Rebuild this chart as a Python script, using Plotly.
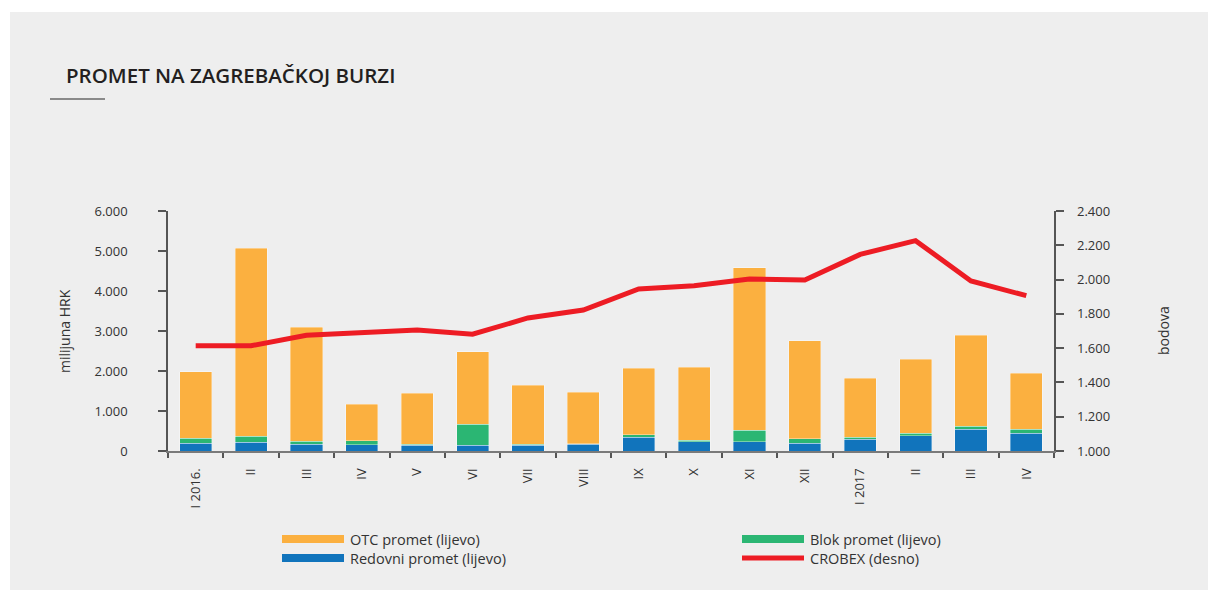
import plotly.graph_objects as go

# ---------------- data ----------------
months = ["I 2016.", "II", "III", "IV", "V", "VI", "VII", "VIII", "IX", "X",
          "XI", "XII", "I 2017", "II", "III", "IV"]
total_turnover = [1985, 5070, 3090, 1165, 1445, 2480, 1645, 1470, 2070, 2100,
                  4585, 2755, 1825, 2300, 2895, 1945]
redovni = [200, 225, 175, 160, 150, 150, 150, 175, 350, 235,
           235, 200, 300, 385, 550, 450]
blok = [120, 150, 75, 100, 25, 525, 25, 10, 60, 30,
        280, 110, 50, 65, 75, 100]
otc = [t - r - b for t, r, b in zip(total_turnover, redovni, blok)]
crobex = [1614, 1614, 1675, 1690, 1706, 1681, 1776, 1822, 1945, 1964,
          2003, 1998, 2147, 2227, 1992, 1906]

left_ticks = [0, 1000, 2000, 3000, 4000, 5000, 6000]
right_ticks = [1000, 1200, 1400, 1600, 1800, 2000, 2200, 2400]

# ---------------- style ----------------
OFF = 8                      # page body margin
W, H = 1217 - OFF, 590 - OFF
L, R, T, B = 168, 1054, 211, 451   # plot box in window pixels
PR = 1076                          # right edge of paper area (for right labels)
C_OTC = "#FBB040"
C_BLOK = "#2BB673"
C_RED = "#1174BC"
C_CRO = "#ED1C24"
AX = "#555555"
TXT = "#333333"
FONT = "Open Sans"
NB = "\u00a0"

def px(x):
    return (x - L) / (PR - L)

def py(y):
    return (B - y) / (B - T)

XDOM = px(R)
xs = list(range(len(months)))

fig = go.Figure()
bar_line = dict(width=0.8, color="rgba(255,255,255,0.45)")
fig.add_trace(go.Bar(x=xs, y=redovni, name="Redovni promet (lijevo)",
                     marker=dict(color=C_RED, line=bar_line), width=0.58))
fig.add_trace(go.Bar(x=xs, y=blok, name="Blok promet (lijevo)",
                     marker=dict(color=C_BLOK, line=bar_line), width=0.58))
fig.add_trace(go.Bar(x=xs, y=otc, name="OTC promet (lijevo)",
                     marker=dict(color=C_OTC, line=bar_line), width=0.58))
fig.add_trace(go.Scatter(x=xs, y=crobex, name="CROBEX (desno)", yaxis="y2",
                         mode="lines", line=dict(color=C_CRO, width=5)))
# invisible companion trace that carries the right-hand tick labels
fig.add_trace(go.Scatter(x=xs, y=crobex, yaxis="y3", mode="lines",
                         line=dict(width=0), hoverinfo="skip", showlegend=False,
                         opacity=0))

shapes = [
    dict(type="rect", xref="paper", yref="paper", layer="below",
         x0=px(10), x1=px(1208), y0=py(12), y1=py(600),
         fillcolor="#EEEEEE", line=dict(width=0)),
    dict(type="line", xref="paper", yref="paper",
         x0=px(50), x1=px(105), y0=py(99), y1=py(99),
         line=dict(color="#8A8A8A", width=2)),
]
annotations = [
    dict(text="PROMET NA ZAGREBAČKOJ BURZI", xref="paper", yref="paper",
         x=px(64), y=py(75), xanchor="left", yanchor="middle", showarrow=False,
         font=dict(family=FONT, size=20.5, color="#231F20", weight=600)),
    dict(text="milijuna HRK", xref="paper", yref="paper", textangle=-90,
         x=px(64), y=py(331), xanchor="center", yanchor="middle", showarrow=False,
         font=dict(family=FONT, size=14, color=TXT)),
    dict(text="bodova", xref="paper", yref="paper", textangle=-90,
         x=px(1163), y=py(331), xanchor="center", yanchor="middle", showarrow=False,
         font=dict(family=FONT, size=14, color=TXT)),
]

legend_items = [
    ("OTC promet (lijevo)", C_OTC, 282, 539, 8),
    ("Redovni promet (lijevo)", C_RED, 282, 558, 8),
    ("Blok promet (lijevo)", C_BLOK, 742, 539, 8),
    ("CROBEX (desno)", C_CRO, 742, 558, 5),
]
for label, col, x0, yy, lw in legend_items:
    shapes.append(dict(type="line", xref="paper", yref="paper",
                       x0=px(x0), x1=px(x0 + 62), y0=py(yy), y1=py(yy),
                       line=dict(color=col, width=lw)))
    annotations.append(dict(text=label, xref="paper", yref="paper",
                            x=px(x0 + 66), y=py(yy), xanchor="left", yanchor="middle",
                            showarrow=False,
                            font=dict(family=FONT, size=14.5, color=TXT)))

fig.update_layout(
    width=W, height=H,
    margin=dict(l=L - OFF, r=W - (PR - OFF), t=T - OFF, b=H - (B - OFF), pad=0),
    paper_bgcolor="white", plot_bgcolor="rgba(0,0,0,0)",
    barmode="stack",
    separators=",.",
    font=dict(family=FONT, size=13, color=TXT),
    showlegend=False,
    shapes=shapes, annotations=annotations,
    xaxis=dict(domain=[0, XDOM], range=[-0.5, 15.5], tickmode="array", tickvals=xs,
               ticktext=[m + NB * 3 for m in months],
               tickangle=-90, ticks="outside", ticklen=0,
               showline=True, linecolor="#7A7A7A", linewidth=2, showgrid=False,
               zeroline=False, tickfont=dict(family=FONT, size=13, color=TXT),
               minor=dict(tickmode="array", tickvals=[i - 0.5 for i in range(17)],
                          ticks="outside", ticklen=5, tickcolor=AX, tickwidth=1.5,
                          showgrid=False)),
    yaxis=dict(range=[0, 6000], tickmode="array", tickvals=left_ticks,
               tickformat=",d", ticks="outside", ticklen=8, tickcolor=AX, tickwidth=1.5,
               ticklabelstandoff=28, showline=True, linecolor=AX, linewidth=1.5,
               showgrid=False, zeroline=False,
               tickfont=dict(family=FONT, size=13, color=TXT)),
    yaxis2=dict(range=[1000, 2400], tickmode="array", tickvals=right_ticks,
                showticklabels=False, overlaying="y", side="right", anchor="x",
                ticks="outside", ticklen=8, tickcolor=AX, tickwidth=1.5,
                showline=True, linecolor=AX, linewidth=1.5,
                showgrid=False, zeroline=False),
    yaxis3=dict(range=[1000, 2400], tickmode="array", tickvals=right_ticks,
                tickformat=",d", overlaying="y", side="right", anchor="free",
                position=1.0, ticks="", showline=False, showgrid=False,
                zeroline=False, tickfont=dict(family=FONT, size=13, color=TXT)),
)

fig.write_html("out.html")
